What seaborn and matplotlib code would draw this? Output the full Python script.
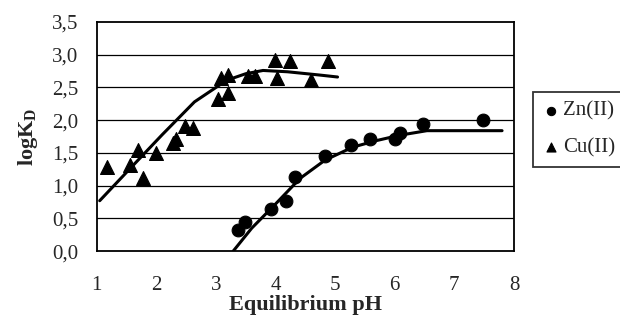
import matplotlib
matplotlib.use("Agg")
import matplotlib.pyplot as plt
import seaborn as sns
import pandas as pd

# Data
zn_ph = [3.37, 3.48, 3.92, 4.17, 4.32, 4.83, 5.27, 5.58, 6.00, 6.08, 6.47, 7.48]
zn_logk = [0.33, 0.45, 0.65, 0.76, 1.13, 1.46, 1.62, 1.71, 1.71, 1.80, 1.94, 2.00]

cu_ph = [1.18, 1.55, 1.69, 1.78, 1.99, 2.28, 2.33, 2.48, 2.61, 3.03, 3.20, 3.09, 3.20,
         3.54, 3.65, 3.99, 4.02, 4.24, 4.60, 4.88]
cu_logk = [1.28, 1.31, 1.54, 1.11, 1.50, 1.65, 1.72, 1.91, 1.88, 2.33, 2.41, 2.64, 2.69,
           2.67, 2.67, 2.92, 2.64, 2.90, 2.61, 2.90]

zn_fit_ph = [3.29, 3.6, 4.0, 4.41, 4.83, 5.3, 5.7, 6.08, 6.54, 7.0, 7.8]
zn_fit_logk = [0.00, 0.35, 0.72, 1.11, 1.39, 1.59, 1.69, 1.77, 1.84, 1.84, 1.84]

cu_fit_ph = [1.05, 1.6, 2.1, 2.64, 3.18, 3.5, 3.79, 4.2, 4.74, 5.04]
cu_fit_logk = [0.77, 1.30, 1.78, 2.28, 2.61, 2.71, 2.76, 2.74, 2.69, 2.66]

y_ticks = [0.0, 0.5, 1.0, 1.5, 2.0, 2.5, 3.0, 3.5]
x_ticks = [1, 2, 3, 4, 5, 6, 7, 8]

sns.set_theme(style="white")
plt.rcParams["font.family"] = ["Liberation Serif", "DejaVu Serif"]
plt.rcParams["mathtext.fontset"] = "custom"
plt.rcParams["mathtext.rm"] = "Liberation Serif"
plt.rcParams["mathtext.bf"] = "Liberation Serif:bold"

fig = plt.figure(figsize=(6.2, 3.24), dpi=100)
ax = fig.add_axes([0.156, 0.225, 0.673, 0.707])

zn_df = pd.DataFrame({"pH": zn_ph, "logK": zn_logk})
cu_df = pd.DataFrame({"pH": cu_ph, "logK": cu_logk})
znf = pd.DataFrame({"pH": zn_fit_ph, "logK": zn_fit_logk})
cuf = pd.DataFrame({"pH": cu_fit_ph, "logK": cu_fit_logk})

for y in y_ticks[1:-1]:
    ax.axhline(y, color="black", lw=0.9, zorder=0)

sns.lineplot(data=cuf, x="pH", y="logK", ax=ax, color="black", lw=2.2, sort=False, zorder=2)
sns.lineplot(data=znf, x="pH", y="logK", ax=ax, color="black", lw=2.2, sort=False, zorder=2)
sns.scatterplot(data=zn_df, x="pH", y="logK", ax=ax, marker="o", s=85, color="black",
                edgecolor="black", label="Zn(II)", zorder=3, clip_on=False)
sns.scatterplot(data=cu_df, x="pH", y="logK", ax=ax, marker="^", s=100, color="black",
                edgecolor="black", label="Cu(II)", zorder=3, clip_on=False)

ax.set_xlim(1, 8)
ax.set_ylim(0, 3.5)
ax.set_xticks(x_ticks)
ax.set_xticklabels([str(v) for v in x_ticks], fontsize=15)
ax.set_yticks(y_ticks)
ax.set_yticklabels([f"{v:.1f}".replace(".", ",") for v in y_ticks], fontsize=15)
ax.tick_params(axis="both", direction="out", length=5, width=1, color="black")
ax.tick_params(axis="x", pad=13)
ax.tick_params(axis="y", pad=8)
for s in ax.spines.values():
    s.set_color("black")
    s.set_linewidth(1.3)

ax.set_xlabel("Equilibrium pH", fontsize=16, fontweight="bold", labelpad=0)
ax.set_ylabel(r"logK$_\mathbf{D}$", fontsize=16, fontweight="bold", labelpad=9)

leg = ax.legend(loc="upper left", bbox_to_anchor=(0.86, 0.716), bbox_transform=fig.transFigure,
                fontsize=15, frameon=True, fancybox=False, edgecolor="black",
                handletextpad=0.2, borderpad=0.45, labelspacing=0.8, handlelength=0.8,
                markerscale=0.65, borderaxespad=0)
leg.get_frame().set_linewidth(1.3)

fig.savefig("out.png", dpi=100)
